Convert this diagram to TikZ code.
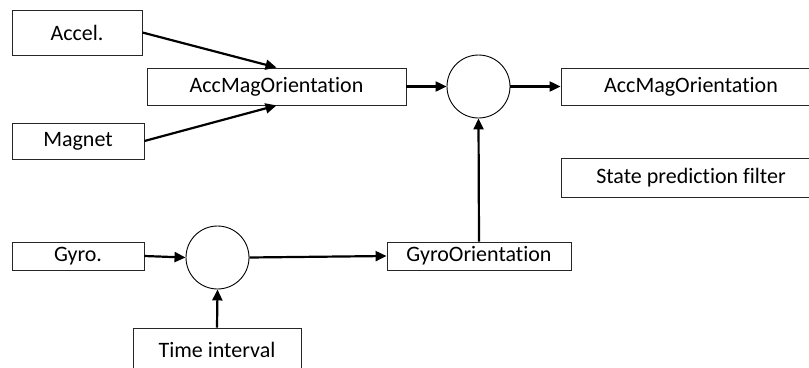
\documentclass[tikz,border=0pt]{standalone}
\usepackage{fontspec}
\setmainfont{Carlito}[Ligatures={NoCommon,NoRare,NoContextual}]
\usetikzlibrary{arrows.meta}
\begin{document}
\begin{tikzpicture}[x=1pt,y=-1pt,
  box/.style={draw=black!85,line width=0.9pt,fill=white,inner sep=0pt,
    font=\fontsize{22}{26}\selectfont},
  sumnode/.style={draw=black,line width=0.9pt,circle,minimum size=63pt,inner sep=0pt},
  conn/.style={line width=2.2pt,-{Triangle[length=11pt,width=10pt]}}]
\useasboundingbox (0,0) rectangle (809,367);
\node[box,minimum width=130pt,minimum height=45pt] (accel) at (77,32.5) {Accel.};
\node[box,minimum width=259pt,minimum height=37pt] (accmag) at (276.5,86.5) {AccMagOrientation};
\node[box,minimum width=132pt,minimum height=36pt] (magnet) at (78,141) {Magnet};
\node[sumnode] (sum1) at (478.5,86.5) {};
\node[box,minimum width=260pt,minimum height=37pt] (out) at (691,86.5) {AccMagOrientation};
\node[box,minimum width=260pt,minimum height=39pt] (state) at (691,177.5) {State prediction filter};
\node[box,minimum width=132pt,minimum height=28pt] (gyro) at (78,256) {Gyro.};
\node[sumnode] (sum2) at (217.5,257.5) {};
\node[box,minimum width=184pt,minimum height=28pt] (gyroori) at (479,256) {GyroOrientation};
\node[box,minimum width=168pt,minimum height=44pt] (time) at (217,350) {Time interval};
\draw[conn] (accel.east) -- (accmag.north);
\draw[conn] (magnet.east) -- (accmag.south);
\draw[conn] (accmag.east) -- (sum1.west);
\draw[conn] (sum1.east) -- (out.west);
\draw[conn] (gyroori.north) -- (sum1.south);
\draw[conn] (gyro.east) -- (sum2.west);
\draw[conn] (sum2.east) -- (gyroori.west);
\draw[conn] (time.north) -- (sum2.south);
\end{tikzpicture}
\end{document}
